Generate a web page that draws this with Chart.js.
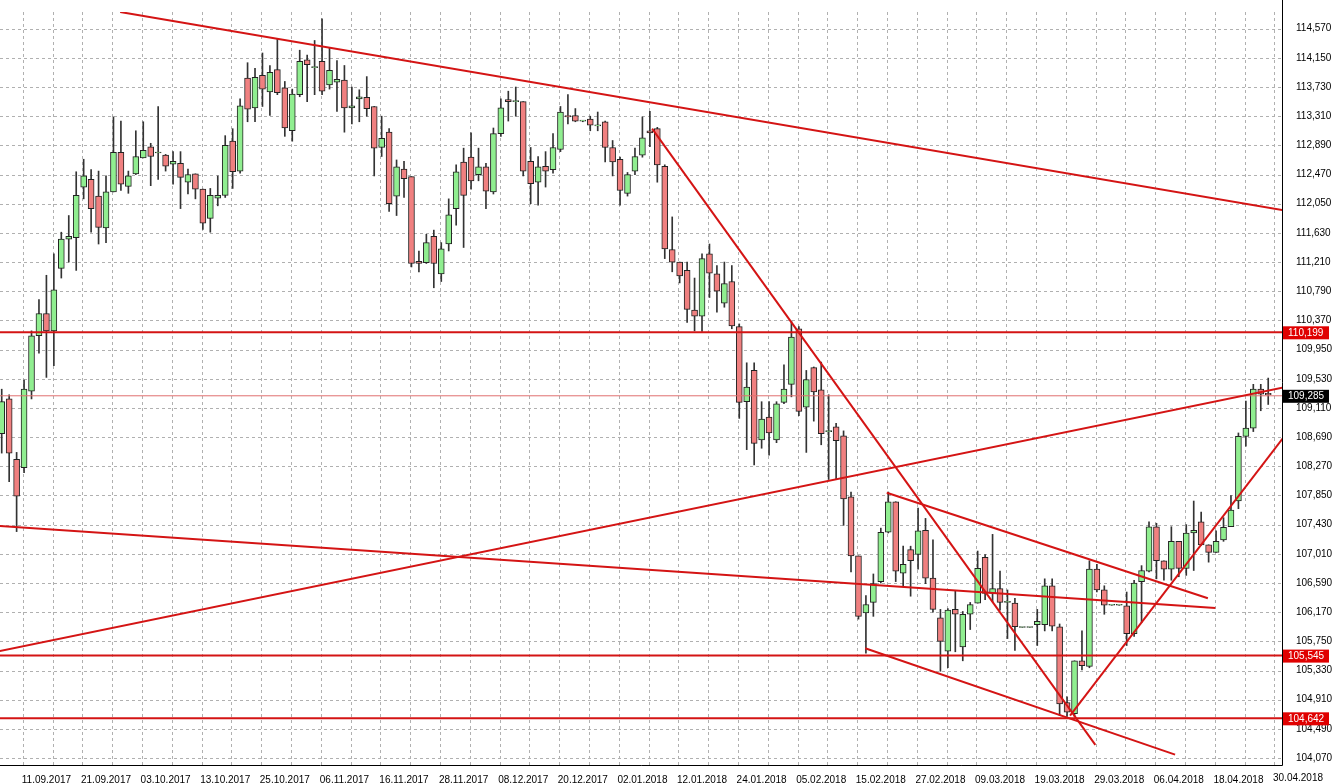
<!DOCTYPE html>
<html><head><meta charset="utf-8">
<script src="https://cdn.jsdelivr.net/npm/chart.js@4/dist/chart.umd.min.js"></script>
<style>html,body{margin:0;padding:0;background:#fff}#wrap{width:1332px;height:783px}</style>
</head><body><div id="wrap"><canvas id="c" width="1332" height="783"></canvas></div>
<script>
// OHLC per candle (index 0..170)
const opens = [108.74,109.24,108.37,108.25,109.35,110.15,110.47,110.22,111.12,111.54,111.56,112.29,112.40,112.16,111.70,112.22,112.79,112.30,112.48,112.71,112.87,112.78,112.75,112.62,112.63,112.36,112.48,112.26,111.84,112.13,112.17,112.95,112.52,113.86,113.43,113.90,113.66,113.98,113.72,113.10,113.62,114.12,114.01,114.10,113.76,113.80,113.83,113.43,113.56,113.58,113.45,112.86,113.08,112.16,112.55,112.44,111.22,111.20,111.58,111.04,111.47,111.98,112.65,112.72,112.47,112.58,112.22,113.06,113.55,113.52,113.52,112.66,112.36,112.59,112.54,112.83,113.32,113.32,113.24,113.27,113.17,113.23,112.86,112.69,112.20,112.52,112.75,113.10,113.13,112.59,111.39,111.21,111.09,110.52,110.43,111.33,111.04,110.62,110.93,110.28,109.20,109.65,108.65,108.98,108.65,109.19,109.45,110.25,109.12,109.69,109.37,108.77,108.84,108.71,107.83,106.98,106.16,106.31,106.61,107.32,107.76,106.73,107.07,107.00,107.35,106.66,106.09,105.61,106.21,105.67,106.14,106.30,106.96,106.44,106.51,106.31,106.30,105.95,105.95,105.99,105.99,106.55,105.96,104.87,104.71,105.47,105.39,106.79,106.49,106.27,106.27,106.26,105.86,106.61,106.76,107.40,106.91,106.79,107.19,106.80,107.31,107.47,107.14,107.03,107.21,107.40,107.77,108.70,108.82,109.38,109.32];
const highs = [109.38,109.30,108.47,109.51,110.22,110.67,111.02,111.33,111.64,111.88,112.51,112.69,112.54,112.52,112.45,113.30,113.24,112.52,113.10,113.23,112.92,113.45,112.76,112.80,112.80,112.55,112.48,112.26,112.27,112.45,113.03,113.13,113.56,114.08,114.00,114.22,114.04,114.42,113.81,113.70,114.26,114.19,114.40,114.71,114.30,114.11,114.04,113.73,113.69,113.88,113.45,113.31,113.13,112.68,112.66,112.44,111.37,111.61,111.67,111.49,112.12,112.61,112.85,113.07,112.85,112.63,113.14,113.56,113.67,113.73,113.52,112.86,112.73,112.80,113.06,113.45,113.62,113.42,113.25,113.31,113.37,113.24,112.96,112.72,112.50,112.85,113.30,113.38,113.15,112.61,111.86,111.21,111.21,110.98,111.33,111.47,111.16,111.21,111.16,110.32,109.76,109.76,109.20,109.20,109.20,109.73,110.36,110.28,109.65,109.70,109.77,109.30,108.89,108.78,107.90,106.98,106.41,106.72,107.38,107.90,107.76,107.12,107.12,107.67,107.52,107.21,106.21,106.22,106.47,106.18,106.31,107.05,107.00,107.29,106.76,106.49,106.37,105.95,105.95,106.21,106.65,106.65,106.00,104.95,105.47,105.90,106.91,106.86,106.55,106.27,106.27,106.46,106.63,106.84,107.47,107.45,106.91,107.40,107.19,107.43,107.77,107.61,107.14,107.34,107.53,107.85,108.75,109.21,109.45,109.45,109.54];
const lows = [108.46,108.05,107.33,108.18,109.24,109.90,109.55,109.72,110.98,111.21,111.09,112.12,111.64,111.47,111.49,112.22,112.24,112.20,112.47,112.71,112.31,112.40,112.52,112.33,111.98,112.19,112.12,111.68,111.64,112.02,112.14,112.27,112.49,113.23,113.23,113.45,113.32,113.62,113.02,112.95,113.59,113.52,113.62,113.62,113.70,113.38,113.08,113.20,113.23,113.31,112.45,112.73,111.94,111.88,112.14,111.14,111.07,111.19,110.84,110.93,111.37,111.74,111.42,112.26,112.38,111.98,112.19,113.02,113.24,113.31,112.45,112.05,112.03,112.29,112.49,112.80,113.20,113.23,113.23,113.10,113.10,112.65,112.45,112.03,112.16,112.47,112.72,112.87,112.36,111.26,111.07,110.91,110.34,110.22,110.21,110.70,110.49,110.56,110.25,108.96,108.51,108.29,108.53,108.43,108.61,109.17,109.27,109.00,108.47,108.92,108.58,108.08,108.08,107.42,106.75,106.07,105.58,106.11,106.59,107.31,106.61,106.54,106.40,106.79,106.58,106.17,105.32,105.37,105.60,105.47,105.92,106.30,106.35,106.32,106.20,105.79,105.62,105.95,105.95,105.69,105.90,105.90,104.68,104.67,104.67,105.34,105.37,106.46,106.14,106.27,106.27,105.69,105.82,106.02,106.75,106.65,106.63,106.63,106.68,106.70,106.77,107.13,106.89,107.03,107.19,107.40,107.66,108.56,108.77,109.07,109.16];
const closes = [109.20,108.46,107.84,109.38,110.15,110.47,110.22,110.81,111.54,111.58,112.17,112.45,111.98,111.71,112.22,112.79,112.33,112.45,112.73,112.82,112.73,112.79,112.59,112.66,112.43,112.47,112.26,111.77,112.17,112.17,112.89,112.51,113.46,113.41,113.87,113.70,113.94,113.65,113.14,113.63,114.10,114.05,114.01,113.67,113.97,113.84,113.43,113.46,113.59,113.42,112.85,112.99,112.05,112.58,112.41,111.19,111.19,111.49,111.19,111.40,111.89,112.51,112.17,112.38,112.58,112.23,113.06,113.43,113.52,113.52,112.52,112.34,112.58,112.52,112.86,113.37,113.30,113.24,113.24,113.18,113.17,112.86,112.65,112.24,112.47,112.73,113.00,113.07,112.61,111.40,111.21,111.01,110.53,110.43,111.26,111.05,110.79,110.90,110.29,109.19,109.41,108.60,108.95,108.75,109.17,109.38,110.13,109.06,109.52,109.34,108.74,108.77,108.64,107.80,106.98,106.11,106.28,106.58,107.32,107.76,106.76,106.86,106.91,107.34,106.66,106.21,105.75,106.20,106.14,106.14,106.28,106.80,106.44,106.51,106.31,106.31,105.96,105.95,105.95,106.04,106.55,105.97,104.85,104.73,105.47,105.40,106.79,106.49,106.27,106.27,106.27,105.86,106.59,106.77,107.40,106.91,106.79,107.19,106.80,107.31,107.35,107.14,107.03,107.19,107.39,107.64,108.70,108.82,109.38,109.31,109.30];
const xTickIndex = [6,14,22,30,38,46,54,62,70,78,86,94,102,110,118,126,134,142,150,158,166];
const xTickLabels = ["11.09.2017","21.09.2017","03.10.2017","13.10.2017","25.10.2017","06.11.2017","16.11.2017","28.11.2017","08.12.2017","20.12.2017","02.01.2018","12.01.2018","24.01.2018","05.02.2018","15.02.2018","27.02.2018","09.03.2018","19.03.2018","29.03.2018","06.04.2018","18.04.2018"];
const lastDateLabel = "30.04.2018";
const yTicks = [104.07,104.49,104.91,105.33,105.75,106.17,106.59,107.01,107.43,107.85,108.27,108.69,109.11,109.53,109.95,110.37,110.79,111.21,111.63,112.05,112.47,112.89,113.31,113.73,114.15,114.57];
const levelsThick = [110.199,105.545,104.642];
const currentPrice = 109.285;
// trend lines [[idx,price],[idx,price]]
const trendLines = [
  [[15.9,114.81],[171.9,111.96]],
  [[-0.3,105.61],[172.3,109.41]],
  [[-0.3,107.41],[162.9,106.23]],
  [[87.3,113.13],[146.8,104.26]],
  [[118.8,107.89],[161.9,106.37]],
  [[115.9,105.65],[157.5,104.12]],
  [[143.4,104.68],[172.5,108.75]]
];

const RED='#d41414';
const FONT='"Liberation Sans"';
const idx = opens.map((_,i)=>i);
const up = idx.map(i=>closes[i]>=opens[i]);
const datasets = [];
trendLines.forEach(t=>datasets.push({type:'line',data:t.map(p=>({x:p[0],y:p[1]})),borderColor:RED,borderWidth:2,pointRadius:0,order:0}));
levelsThick.forEach(v=>datasets.push({type:'line',data:[{x:-5,y:v},{x:180,y:v}],borderColor:RED,borderWidth:2,pointRadius:0,order:0}));
datasets.push({type:'line',data:[{x:-5,y:currentPrice},{x:180,y:currentPrice}],borderColor:'#e07070',borderWidth:1,pointRadius:0,order:0});
datasets.push({type:'bar',data:idx.map(i=>({x:i,y:[lows[i],highs[i]]})),backgroundColor:'#333',barThickness:1,grouped:false,order:3});
datasets.push({type:'bar',data:idx.map(i=>({x:i,y:[opens[i],closes[i]]})),backgroundColor:idx.map(i=>up[i]?'#90ee90':'#f08080'),borderColor:'#222',borderWidth:1,borderSkipped:false,barThickness:6,minBarLength:1,grouped:false,order:2});

const gridPlugin={id:'grid',beforeDatasetsDraw(ch){
  const {ctx,chartArea:a,scales:{x,y}}=ch;ctx.save();ctx.strokeStyle='#b0b0b0';ctx.lineWidth=1;ctx.setLineDash([3,3]);
  for(let k=2.82;k<x.max;k+=4){const px=Math.round(x.getPixelForValue(k))+0.5;ctx.beginPath();ctx.moveTo(px,a.top);ctx.lineTo(px,a.bottom);ctx.stroke();}
  yTicks.forEach(v=>{const py=Math.round(y.getPixelForValue(v))+0.5;ctx.beginPath();ctx.moveTo(a.left,py);ctx.lineTo(a.right,py);ctx.stroke();});
  ctx.restore();}};
const labelPlugin={id:'lbl',afterDraw(ch){
  const {ctx,chartArea:a,scales:{y}}=ch;ctx.save();ctx.font='10px '+FONT;ctx.textBaseline='middle';ctx.textAlign='left';
  const box=(v,bg)=>{const py=y.getPixelForValue(v);ctx.fillStyle=bg;ctx.fillRect(a.right+1,py-6,46,13);ctx.fillStyle='#fff';ctx.fillText(v.toFixed(3).replace('.',','),a.right+6,py+0.5);};
  levelsThick.forEach(v=>box(v,'#e00000'));box(currentPrice,'#000');
  ctx.fillStyle='#000';ctx.textBaseline='middle';ctx.textAlign='center';ctx.fillText(lastDateLabel,1298,778);
  ctx.strokeStyle='#000';ctx.lineWidth=1;ctx.beginPath();ctx.moveTo(a.right+0.5,0);ctx.lineTo(a.right+0.5,a.bottom+0.5);ctx.lineTo(0,a.bottom+0.5);ctx.stroke();
  ctx.restore();}};

new Chart(document.getElementById('c'),{
  data:{datasets},
  plugins:[gridPlugin,labelPlugin],
  options:{responsive:false,animation:false,events:[],
    layout:{padding:0},
    plugins:{legend:{display:false},tooltip:{enabled:false}},
    scales:{
      x:{type:'linear',min:-0.23,max:171.85,offset:false,
        afterBuildTicks(s){s.ticks=xTickIndex.map(v=>({value:v}));},
        afterFit(s){s.height=18;},
        ticks:{autoSkip:false,maxRotation:0,padding:1,color:'#000',font:{family:'Liberation Sans',size:10},callback:(v)=>{const i=xTickIndex.indexOf(v);return i>=0?xTickLabels[i]:'';}},
        grid:{display:false},border:{display:false}},
      y:{position:'right',min:103.97,max:114.81,
        afterBuildTicks(s){s.ticks=yTicks.map(v=>({value:v}));},
        afterFit(s){s.width=50;},
        ticks:{color:'#000',padding:6,font:{family:'Liberation Sans',size:10},callback:v=>v.toFixed(3).replace('.',',')},
        grid:{display:false},border:{display:false}}
    }}
});
</script></body></html>
